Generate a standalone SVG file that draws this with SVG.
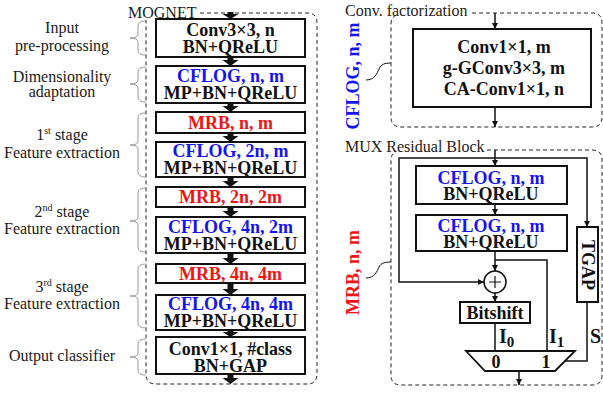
<svg xmlns="http://www.w3.org/2000/svg" width="603" height="393" viewBox="0 0 603 393" font-family="'Liberation Serif', 'DejaVu Serif', serif">
<style>
.lbl{font-family:"Liberation Serif","DejaVu Serif",serif;font-size:16px;fill:#1a1a1a;text-anchor:middle}
.ttl{font-family:"Liberation Serif","DejaVu Serif",serif;font-size:16px;fill:#1a1a1a}
.bt{font-family:"Liberation Serif","DejaVu Serif",serif;font-size:18px;font-weight:bold;fill:#111;text-anchor:middle}
.st{text-anchor:start}
.big{font-size:20px}
.blue{fill:#1414f0}
.red{fill:#f01414}
.box{fill:#fff;stroke:#111;stroke-width:2}
.frame{fill:none;stroke:#222;stroke-width:1;stroke-dasharray:4 3}
.brace{fill:none;stroke:#999;stroke-width:1}
.ln{fill:none;stroke:#111;stroke-width:1.5}
.thin{fill:none;stroke:#111;stroke-width:1}
.bar{fill:#111}
</style>
<defs>
<marker id="ah" viewBox="0 0 8 8" refX="8" refY="4" markerWidth="6" markerHeight="6" markerUnits="userSpaceOnUse" orient="auto">
<path d="M0,0 L8,4 L0,8 z" fill="#111"/>
</marker>
</defs>

<g id="frames">
<path class="frame" d="M200,13 H307 Q317,13 317,23 V374 Q317,384 307,384 H156 Q146,384 146,374 V20"/>
<path class="frame" d="M472,13 H592 Q602,13 602,23 V117 Q602,127 592,127 H401 Q391,127 391,117 V24 Q391,17 397,15"/>
<path class="frame" d="M487,150 H592 Q602,150 602,160 V375 Q602,385 592,385 H401 Q391,385 391,375 V160 Q391,154 396,152"/>
<text class="ttl" x="128" y="18">MOGNET</text>
<text class="ttl" x="345" y="16">Conv. factorization</text>
<text class="ttl" x="345" y="152">MUX Residual Block</text>
</g>

<g id="stage-labels">
<path class="brace" d="M146,21 Q138,21 138,26 V34 Q138,38 130,38 Q138,38 138,42 V50 Q138,55 146,55"/>
<path class="brace" d="M146,67 Q138,67 138,72 V80 Q138,84 130,84 Q138,84 138,88 V97 Q138,102 146,102"/>
<path class="brace" d="M146,113 Q138,113 138,118 V141 Q138,145 130,145 Q138,145 138,149 V172 Q138,177 146,177"/>
<path class="brace" d="M146,188 Q138,188 138,193 V217 Q138,221 130,221 Q138,221 138,225 V247 Q138,252 146,252"/>
<path class="brace" d="M146,264 Q138,264 138,269 V292 Q138,296 130,296 Q138,296 138,300 V323 Q138,328 146,328"/>
<path class="brace" d="M146,339 Q138,339 138,344 V353 Q138,357 130,357 Q138,357 138,361 V370 Q138,375 146,375"/>
<text class="lbl" x="62" y="33">Input</text>
<text class="lbl" x="62" y="50.5">pre-processing</text>
<text class="lbl" x="62" y="81.5">Dimensionality</text>
<text class="lbl" x="62" y="97">adaptation</text>
<text class="lbl" x="62" y="140">1<tspan font-size="10" dy="-6">st</tspan><tspan dy="6"> stage</tspan></text>
<text class="lbl" x="62" y="157.5">Feature extraction</text>
<text class="lbl" x="62" y="216.5">2<tspan font-size="10" dy="-6">nd</tspan><tspan dy="6"> stage</tspan></text>
<text class="lbl" x="62" y="234">Feature extraction</text>
<text class="lbl" x="62" y="291.5">3<tspan font-size="10" dy="-6">rd</tspan><tspan dy="6"> stage</tspan></text>
<text class="lbl" x="62" y="309">Feature extraction</text>
<text class="lbl" x="62" y="360.5">Output classifier</text>
</g>

<g id="mognet-connectors">
<polygon class="bar" points="227.5,12 233.5,12 233.5,14 238.5,14 230.5,19 222.5,14 227.5,14"/>
<polygon class="bar" points="227.5,57 233.5,57 233.5,60 238.5,60 230.5,66 222.5,60 227.5,60"/>
<polygon class="bar" points="227.5,103 233.5,103 233.5,106 238.5,106 230.5,112 222.5,106 227.5,106"/>
<polygon class="bar" points="227.5,133 233.5,133 233.5,136 238.5,136 230.5,142 222.5,136 227.5,136"/>
<polygon class="bar" points="227.5,177 233.5,177 233.5,181 238.5,181 230.5,187 222.5,181 227.5,181"/>
<polygon class="bar" points="227.5,207 233.5,207 233.5,211 238.5,211 230.5,217 222.5,211 227.5,211"/>
<polygon class="bar" points="227.5,253 233.5,253 233.5,258 238.5,258 230.5,264 222.5,258 227.5,258"/>
<polygon class="bar" points="227.5,283 233.5,283 233.5,289 238.5,289 230.5,295 222.5,289 227.5,289"/>
<polygon class="bar" points="227.5,330 233.5,330 233.5,332 238.5,332 230.5,337 222.5,332 227.5,332"/>
<polygon class="bar" points="227.5,374 233.5,374 233.5,378 238.5,378 230.5,384 222.5,378 227.5,378"/>
</g>

<g id="n-conv3"><rect class="box" x="156" y="19" width="149" height="38"/>
<text class="bt" x="230.5" y="36">Conv3×3, n</text><text class="bt" x="230.5" y="53">BN+QReLU</text></g>
<g id="n-cflog1"><rect class="box" x="156" y="66" width="149" height="37"/>
<text class="bt blue" x="230.5" y="82">CFLOG, n, m</text><text class="bt" x="230.5" y="99">MP+BN+QReLU</text></g>
<g id="n-mrb1"><rect class="box" x="156" y="112" width="149" height="21"/>
<text class="bt red" x="230.5" y="128.5">MRB, n, m</text></g>
<g id="n-cflog2"><rect class="box" x="156" y="142" width="149" height="35"/>
<text class="bt blue" x="230.5" y="157">CFLOG, 2n, m</text><text class="bt" x="230.5" y="173.5">MP+BN+QReLU</text></g>
<g id="n-mrb2"><rect class="box" x="156" y="187" width="149" height="20"/>
<text class="bt red" x="230.5" y="203">MRB, 2n, 2m</text></g>
<g id="n-cflog3"><rect class="box" x="156" y="217" width="149" height="36"/>
<text class="bt blue" x="230.5" y="233">CFLOG, 4n, 2m</text><text class="bt" x="230.5" y="250">MP+BN+QReLU</text></g>
<g id="n-mrb3"><rect class="box" x="156" y="264" width="149" height="19"/>
<text class="bt red" x="230.5" y="280">MRB, 4n, 4m</text></g>
<g id="n-cflog4"><rect class="box" x="156" y="295" width="149" height="35"/>
<text class="bt blue" x="230.5" y="309.5">CFLOG, 4n, 4m</text><text class="bt" x="230.5" y="326.5">MP+BN+QReLU</text></g>
<g id="n-out"><rect class="box" x="156" y="337" width="149" height="37"/>
<text class="bt" x="230.5" y="355">Conv1×1, #class</text><text class="bt" x="230.5" y="371.5">BN+GAP</text></g>

<g id="cflog-label">
<text class="bt blue" transform="translate(359,76) rotate(-90)">CFLOG, n, m</text>
<path class="thin" d="M366,80 C375,80 377,73 379,69 C381,64 385,63 391,63"/>
</g>
<g id="cf-connectors">
<line class="ln" x1="495" y1="13" x2="495" y2="29" marker-end="url(#ah)"/>
<line class="ln" x1="495" y1="107" x2="495" y2="127" marker-end="url(#ah)"/>
</g>
<g id="n-cfbox"><rect class="box" x="413" y="29" width="178" height="78"/>
<text class="bt" x="504" y="53">Conv1×1, m</text>
<text class="bt" x="504" y="74">g-GConv3×3, m</text>
<text class="bt" x="504" y="94.5">CA-Conv1×1, n</text></g>

<g id="mrb-label">
<text class="bt red" transform="translate(359,272.5) rotate(-90)">MRB, n, m</text>
<path class="thin" d="M366,278 C375,278 377,271 379,267 C381,263 385,262 391,262"/>
</g>
<g id="mrb-connectors">
<line class="ln" x1="495" y1="150" x2="495" y2="166" marker-end="url(#ah)"/>
<polyline class="ln" points="495,158 399,158 399,282 484,282" marker-end="url(#ah)"/>
<polyline class="ln" points="495,158 587,158 587,227" marker-end="url(#ah)"/>
<line class="ln" x1="495" y1="204" x2="495" y2="215" marker-end="url(#ah)"/>
<line class="ln" x1="495" y1="251" x2="495" y2="271" marker-end="url(#ah)"/>
<polyline class="ln" points="495,260 547,260 547,351"/>
<line class="ln" x1="495" y1="293" x2="495" y2="302" marker-end="url(#ah)"/>
<line class="ln" x1="495" y1="323" x2="495" y2="351"/>
<polyline class="ln" points="587,302 587,361 565,361"/>
<line class="ln" x1="519" y1="371" x2="519" y2="385" marker-end="url(#ah)"/>
<text class="bt st big" x="499" y="343">I<tspan font-size="15" dy="4">0</tspan></text>
<text class="bt st big" x="549" y="343">I<tspan font-size="15" dy="4">1</tspan></text>
<text class="bt st big" x="590" y="343">S</text>
</g>
<g id="n-mrb-cflog1"><rect class="box" x="416" y="166" width="151" height="38"/>
<text class="bt blue" x="491" y="183.5">CFLOG, n, m</text><text class="bt" x="491" y="200">BN+QReLU</text></g>
<g id="n-mrb-cflog2"><rect class="box" x="416" y="215" width="151" height="36"/>
<text class="bt blue" x="491" y="231.5">CFLOG, n, m</text><text class="bt" x="491" y="248">BN+QReLU</text></g>
<g id="n-add"><circle cx="495" cy="282" r="11" fill="#fff" stroke="#111" stroke-width="1.5"/>
<path d="M489,282 H501 M495,276 V288" stroke="#111" stroke-width="1.2"/></g>
<g id="n-bitshift"><rect class="box" x="460" y="302" width="70" height="21"/>
<text class="bt" x="495" y="319">Bitshift</text></g>
<g id="n-tgap"><rect class="box" x="577" y="227" width="21" height="75"/>
<text class="bt" transform="translate(581.5,265) rotate(90)">TGAP</text></g>
<g id="n-mux"><polygon points="466,351 575,351 555,371 485,371" fill="#fff" stroke="#111" stroke-width="1.8"/>
<text class="bt" x="496" y="368">0</text>
<text class="bt" x="546" y="368">1</text></g>
</svg>
